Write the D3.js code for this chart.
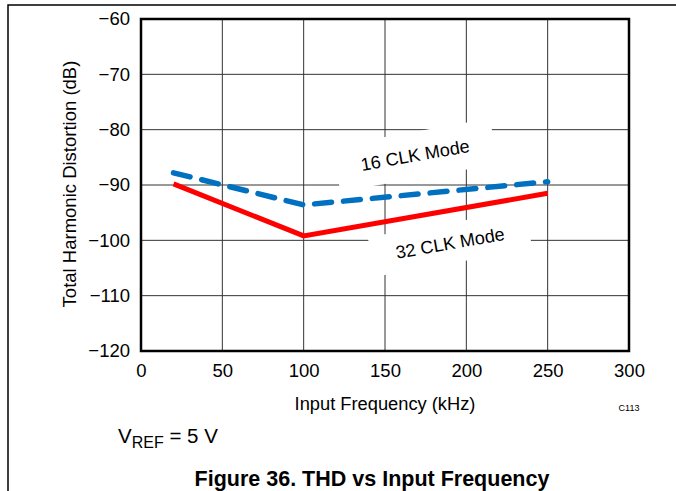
<!DOCTYPE html>
<html><head><meta charset="utf-8">
<script src="https://cdn.jsdelivr.net/npm/d3@7"></script>
<style>body{margin:0;background:#fff}svg{display:block;font-family:"Liberation Sans",Arial,sans-serif}</style>
</head><body>
<script>
const xTicks = [0, 50, 100, 150, 200, 250, 300];
const yTicks = [-60, -70, -80, -90, -100, -110, -120];
const freq = [20, 100, 250];
const thd32 = [-89.8, -99.2, -91.5];
const thd16 = [-87.8, -93.6, -89.4];
const seriesNames = ["16 CLK Mode", "32 CLK Mode"];

const W = 676, H = 491;
const svg = d3.select("body").append("svg").attr("width", W).attr("height", H);
const x = d3.scaleLinear().domain([0, 300]).range([141, 629]);
const y = d3.scaleLinear().domain([-120, -60]).range([351, 19]);

// page frame
svg.append("path").attr("d", "M8,491 V5 H676").attr("fill", "none").attr("stroke", "#000").attr("stroke-width", 1.5);

// grid
const g = svg.append("g");
g.selectAll(".gx").data(xTicks).join("line").attr("x1", d => x(d)).attr("x2", d => x(d))
  .attr("y1", y(-60)).attr("y2", y(-120)).attr("stroke", "#333").attr("stroke-width", 1);
g.selectAll(".gy").data(yTicks).join("line").attr("y1", d => y(d)).attr("y2", d => y(d))
  .attr("x1", x(0)).attr("x2", x(300)).attr("stroke", "#333").attr("stroke-width", 1);

// axes labels via d3 axes
const fmt = d => (d < 0 ? "\u2212" + Math.abs(d) : String(d));
const ax = svg.append("g").attr("transform", `translate(0,${y(-120)})`)
  .call(d3.axisBottom(x).tickValues(xTicks).tickFormat(fmt).tickSize(0).tickPadding(13));
const ay = svg.append("g").attr("transform", `translate(${x(0)},0)`)
  .call(d3.axisLeft(y).tickValues(yTicks).tickFormat(fmt).tickSize(0).tickPadding(11));
[ax, ay].forEach(a => { a.select(".domain").remove(); a.selectAll("text").attr("font-size", 18.5).attr("fill", "#000").attr("font-family", "Liberation Sans, Arial, sans-serif"); });

// label backgrounds + labels
function label(txt, fx, fy, bw, bh) {
  const gg = svg.append("g").attr("transform", `translate(${x(fx)},${y(fy)}) rotate(-10)`);
  gg.append("rect").attr("x", -bw / 2).attr("y", -bh / 2).attr("width", bw).attr("height", bh).attr("fill", "#fff");
  gg.append("text").attr("text-anchor", "middle").attr("dy", "0.35em").attr("font-size", 18).text(txt);
}
label(seriesNames[0], 168.5, -84.6, 160, 46);
label(seriesNames[1], 190, -100.5, 160, 40);

// lines
const line = d3.line().x(d => x(d[0])).y(d => y(d[1]));
svg.append("path").datum(d3.zip(freq, thd32)).attr("d", line).attr("fill", "none")
  .attr("stroke", "#ff0000").attr("stroke-width", 5).attr("stroke-linejoin", "miter");
svg.append("path").datum(d3.zip(freq, thd16)).attr("d", line).attr("fill", "none")
  .attr("stroke", "#0070c0").attr("stroke-width", 5.5).attr("stroke-dasharray", "17,12").attr("stroke-linecap", "round");

// plot frame
svg.append("rect").attr("x", x(0)).attr("y", y(-60)).attr("width", x(300) - x(0)).attr("height", y(-120) - y(-60))
  .attr("fill", "none").attr("stroke", "#000").attr("stroke-width", 2.5);

// axis titles
svg.append("text").attr("x", 385).attr("y", 410).attr("text-anchor", "middle").attr("font-size", 18.3).text("Input Frequency (kHz)");
svg.append("text").attr("transform", "translate(76,184) rotate(-90)").attr("text-anchor", "middle").attr("font-size", 18.5).text("Total Harmonic Distortion (dB)");
svg.append("text").attr("x", 629).attr("y", 411).attr("text-anchor", "middle").attr("font-size", 9).text("C113");

// VREF note
const vt = svg.append("text").attr("x", 118).attr("y", 443).attr("font-size", 20.5);
vt.append("tspan").text("V");
vt.append("tspan").attr("dy", 5).attr("font-size", 16).text("REF");
vt.append("tspan").attr("dy", -5).text(" = 5 V");

// caption
svg.append("text").attr("x", 372).attr("y", 486).attr("text-anchor", "middle").attr("font-size", 21.5).attr("font-weight", "bold").text("Figure 36. THD vs Input Frequency");
</script>
</body></html>
